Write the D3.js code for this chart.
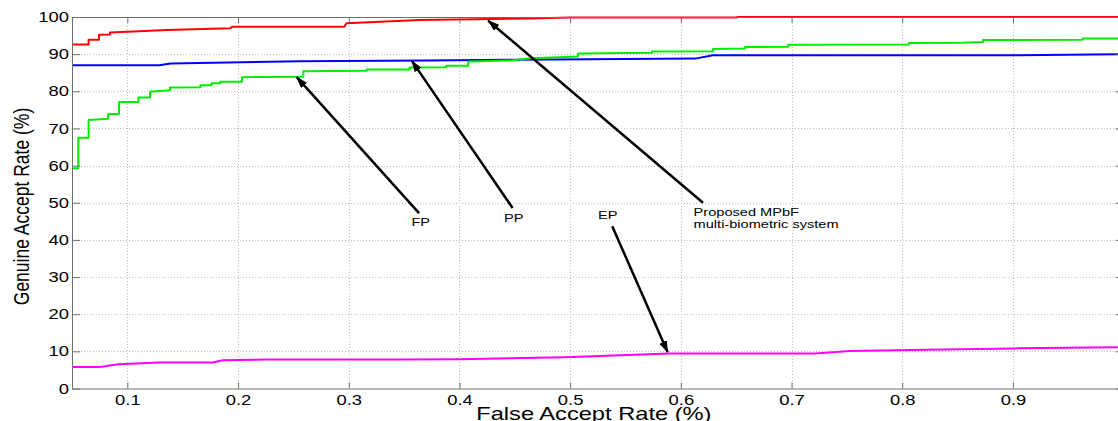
<!DOCTYPE html>
<html>
<head>
<meta charset="utf-8">
<script src="https://cdn.jsdelivr.net/npm/d3@7"></script>
<style>
  html, body { margin: 0; padding: 0; background: #fff; }
  svg { display: block; font-family: "Liberation Sans", Arial, sans-serif; }
</style>
</head>
<body>
<svg id="chart" width="1118" height="421"></svg>
<script>
// ROC-style curves: Genuine Accept Rate vs False Accept Rate
const mpbfFar = [0.05, 0.065, 0.065, 0.0744, 0.0744, 0.0843, 0.0843, 0.136, 0.193, 0.195, 0.296, 0.298, 0.364, 0.464, 0.50, 0.65, 0.652, 1.0];
const mpbfGar = [92.6, 92.6, 93.9, 93.9, 95.2, 95.3, 95.8, 96.5, 97.0, 97.4, 97.4, 98.3, 99.2, 99.6, 99.85, 99.85, 100, 100];

const ppFar = [0.05, 0.129, 0.139, 0.256, 0.37, 0.45, 0.55, 0.613, 0.629, 0.905, 1.0];
const ppGar = [87.0, 87.0, 87.5, 88.1, 88.3, 88.5, 88.7, 88.8, 89.7, 89.7, 90.0];

const fpFar = [0.05, 0.0557, 0.0557, 0.065, 0.065, 0.0826, 0.0826, 0.0925, 0.0925, 0.110, 0.110, 0.1205, 0.1205, 0.1385, 0.1385, 0.166, 0.166, 0.176, 0.176, 0.184, 0.184, 0.2035, 0.2035, 0.259, 0.259, 0.316, 0.316, 0.355, 0.355, 0.388, 0.388, 0.408, 0.408, 0.446, 0.465, 0.507, 0.507, 0.574, 0.574, 0.629, 0.629, 0.658, 0.658, 0.697, 0.697, 0.806, 0.806, 0.854, 0.873, 0.873, 0.963, 0.963, 1.0];
const fpGar = [59.3, 59.3, 67.5, 67.5, 72.3, 72.6, 73.9, 73.9, 77.1, 77.1, 78.3, 78.3, 79.9, 80.3, 81.0, 81.1, 81.6, 81.6, 82.2, 82.2, 82.6, 82.6, 83.8, 83.9, 85.4, 85.5, 85.9, 85.9, 86.4, 86.5, 86.9, 86.9, 88.0, 88.3, 88.9, 89.4, 90.2, 90.4, 90.7, 90.8, 91.4, 91.5, 91.9, 92.0, 92.5, 92.6, 93.0, 93.1, 93.3, 93.8, 93.9, 94.2, 94.2];

const epFar = [0.05, 0.075, 0.092, 0.129, 0.177, 0.186, 0.226, 0.346, 0.40, 0.495, 0.59, 0.721, 0.753, 0.822, 0.902, 1.0];
const epGar = [5.8, 5.8, 6.5, 7.0, 7.0, 7.6, 7.8, 7.8, 7.9, 8.4, 9.4, 9.4, 10.1, 10.4, 10.8, 11.1];

const seriesNames = ["Proposed MPbF", "PP", "FP", "EP"];
const seriesColors = ["#ff0000", "#0000ff", "#00ee00", "#ff00ff"];

const xTicks = [0.1, 0.2, 0.3, 0.4, 0.5, 0.6, 0.7, 0.8, 0.9, 1.0];
const xTickLabels = ["0.1", "0.2", "0.3", "0.4", "0.5", "0.6", "0.7", "0.8", "0.9", ""];
const yTicks = [0, 10, 20, 30, 40, 50, 60, 70, 80, 90, 100];
const yTickLabels = ["0", "10", "20", "30", "40", "50", "60", "70", "80", "90", "100"];

// Callouts: arrow tip and tail in (FAR, GAR), label lines
const calloutNames = ["FP", "PP", "EP", "MPbF"];
const calloutTip = [[0.253, 83.8], [0.357, 88.2], [0.588, 9.8], [0.426, 99.0]];
const calloutTail = [[0.3635, 47.2], [0.448, 48.6], [0.538, 43.7], [0.62, 50.0]];
const calloutText = [["FP"], ["PP"], ["EP"], ["Proposed MPbF", "multi-biometric system"]];
const calloutAt = [[0.365, 43.7], [0.449, 44.8], [0.534, 45.6], [0.6115, 46.4]];
const calloutAnchor = ["middle", "middle", "middle", "start"];

const svg = d3.select("#chart");
const W = 1118, H = 421;
const STRETCH = 1.27; // glyphs are drawn horizontally widened

const x = d3.scaleLinear().domain([0.05, 1.0]).range([72, 1123.65]);
const y = d3.scaleLinear().domain([0, 100]).range([388.5, 17]);
const [x0, x1] = x.range();
const [y0, y1] = y.range();

svg.append("rect").attr("width", W).attr("height", H).attr("fill", "#fff");

// dotted grid
const grid = svg.append("g").attr("stroke", "#bdbdbd").attr("stroke-width", 1)
  .attr("stroke-dasharray", "1,2");
grid.selectAll("line.gx").data(xTicks.slice(0, -1)).join("line")
  .attr("x1", d => Math.round(x(d)) + 0.5).attr("x2", d => Math.round(x(d)) + 0.5)
  .attr("y1", y1).attr("y2", y0);
grid.selectAll("line.gy").data(yTicks.slice(1, -1)).join("line")
  .attr("x1", x0).attr("x2", x1)
  .attr("y1", d => Math.round(y(d)) + 0.5).attr("y2", d => Math.round(y(d)) + 0.5);

// curves
const curves = [
  [mpbfFar, mpbfGar], [ppFar, ppGar], [fpFar, fpGar], [epFar, epGar]
];
svg.append("clipPath").attr("id", "plotClip").append("rect")
  .attr("x", x0).attr("y", y1 - 2).attr("width", x1 - x0).attr("height", y0 - y1 + 4);
const line = d3.line().x(d => x(d[0])).y(d => y(d[1]));
const gCurves = svg.append("g").attr("clip-path", "url(#plotClip)");
curves.forEach((c, i) => {
  const pts = c[0].map((v, k) => [v, c[1][k]]);
  gCurves.append("path").datum(pts)
    .attr("d", line)
    .attr("fill", "none")
    .attr("stroke", seriesColors[i])
    .attr("stroke-width", 2)
    .attr("stroke-linejoin", "round")
    .attr("aria-label", seriesNames[i]);
});

// axes frame with inward ticks
const axisColor = "#6e6e6e";
function styleAxis(g) {
  g.selectAll("path.domain").attr("stroke", axisColor);
  g.selectAll(".tick line").attr("stroke", axisColor);
}
const fmtX = (d) => xTickLabels[xTicks.indexOf(d)];
const fmtY = (d) => yTickLabels[yTicks.indexOf(d)];

const gxb = svg.append("g").attr("transform", `translate(0,${y0})`)
  .call(d3.axisBottom(x).tickValues(xTicks).tickFormat(fmtX).tickSize(-6).tickSizeOuter(0).tickPadding(6.5));
styleAxis(gxb);
gxb.selectAll(".tick text")
  .attr("fill", "#000").attr("font-size", 14.5)
  .attr("font-family", "Liberation Sans, Arial, sans-serif")
  .attr("transform", `scale(${STRETCH},1)`);

const gxt = svg.append("g").attr("transform", `translate(0,${y1})`)
  .call(d3.axisTop(x).tickValues(xTicks).tickFormat("").tickSize(-6).tickSizeOuter(0));
styleAxis(gxt);

const gyl = svg.append("g").attr("transform", `translate(${x0},0)`)
  .call(d3.axisLeft(y).tickValues(yTicks).tickFormat(fmtY).tickSize(-8).tickSizeOuter(0).tickPadding(0));
styleAxis(gyl);
gyl.selectAll(".tick text")
  .attr("fill", "#000").attr("font-size", 14.5)
  .attr("font-family", "Liberation Sans, Arial, sans-serif")
  .attr("x", 0)
  .attr("transform", `translate(-3,0) scale(${STRETCH},1)`);

const gyr = svg.append("g").attr("transform", `translate(${x1},0)`)
  .call(d3.axisRight(y).tickValues(yTicks).tickFormat("").tickSize(-8).tickSizeOuter(0));
styleAxis(gyr);

// axis titles
svg.append("text")
  .attr("transform", `translate(${(x0 + x1) / 2 - 4},420) scale(${STRETCH + 0.03},1)`)
  .attr("text-anchor", "middle")
  .attr("font-size", 18.2)
  .attr("fill", "#000")
  .text("False Accept Rate (%)");
svg.append("text")
  .attr("transform", `translate(29,206.5) scale(${STRETCH},1) rotate(-90)`)
  .attr("text-anchor", "middle")
  .attr("font-size", 17.5)
  .attr("fill", "#000")
  .text("Genuine Accept Rate (%)");

// callout arrows
svg.append("defs").append("marker")
  .attr("id", "arrowHead")
  .attr("markerUnits", "userSpaceOnUse")
  .attr("viewBox", "0 0 12 8")
  .attr("markerWidth", 12).attr("markerHeight", 8)
  .attr("refX", 11).attr("refY", 4)
  .attr("orient", "auto")
  .append("path").attr("d", "M0,0 L12,4 L0,8 Z").attr("fill", "#000");

const gCall = svg.append("g");
calloutNames.forEach((name, i) => {
  gCall.append("line")
    .attr("x1", x(calloutTail[i][0])).attr("y1", y(calloutTail[i][1]))
    .attr("x2", x(calloutTip[i][0])).attr("y2", y(calloutTip[i][1]))
    .attr("stroke", "#000").attr("stroke-width", 2.5)
    .attr("marker-end", "url(#arrowHead)");
  const t = gCall.append("text")
    .attr("transform", `translate(${x(calloutAt[i][0])},${y(calloutAt[i][1])}) scale(${STRETCH},1)`)
    .attr("text-anchor", calloutAnchor[i])
    .attr("font-size", 11.5)
    .attr("fill", "#000");
  calloutText[i].forEach((s, k) => {
    t.append("tspan").attr("x", 0).attr("dy", k === 0 ? 0 : 12).text(s);
  });
});
</script>
</body>
</html>
